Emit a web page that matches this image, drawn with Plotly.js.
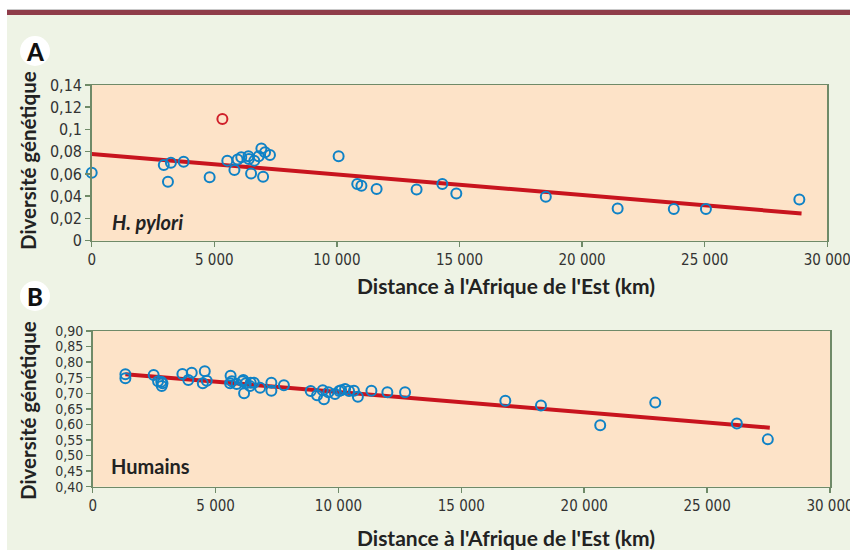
<!DOCTYPE html>
<html>
<head>
<meta charset="utf-8">
<script src="https://cdn.plot.ly/plotly-3.0.1.min.js"></script>
<style>html,body{margin:0;padding:0;background:#fff;}#chart{width:850px;height:550px;}</style>
</head>
<body>
<div id="chart"></div>
<script>
// ---- Panel A : H. pylori ----
var distA = [0, 2940, 3230, 3110, 3750, 4810, 5530, 5820, 5950, 6100, 6390, 6410, 6500, 6630, 6810, 6920, 6990, 7070, 7270, 10070, 10830, 11000, 11620, 13250, 14300, 14870, 18520, 21450, 23740, 25050, 28860];
var divA  = [0.061, 0.068, 0.070, 0.053, 0.071, 0.057, 0.072, 0.0635, 0.073, 0.075, 0.076, 0.0735, 0.0605, 0.072, 0.076, 0.083, 0.0575, 0.0795, 0.077, 0.076, 0.051, 0.0495, 0.0465, 0.046, 0.051, 0.0425, 0.0395, 0.029, 0.0285, 0.0285, 0.037];
var outlierDistA = [5330];
var outlierDivA  = [0.1095];
var trendDistA = [0, 28950];
var trendDivA  = [0.078, 0.0245];

// ---- Panel B : Humains ----
var distB = [1330, 1330, 2480, 2660, 2790, 2810, 2840, 3650, 3890, 4030, 4480, 4560, 4640, 5610, 5590, 5660, 5860, 6090, 6130, 6160, 6230, 6400, 6430, 6560, 6810, 7270, 7270, 7780, 8870, 9130, 9360, 9410, 9590, 9860, 10030, 10110, 10270, 10430, 10630, 10790, 11340, 11990, 12710, 16790, 18240, 20650, 22890, 26210, 27470];
var divB  = [0.761, 0.748, 0.759, 0.739, 0.737, 0.723, 0.732, 0.762, 0.743, 0.766, 0.732, 0.771, 0.740, 0.756, 0.732, 0.739, 0.730, 0.739, 0.743, 0.700, 0.732, 0.723, 0.734, 0.734, 0.718, 0.734, 0.708, 0.726, 0.707, 0.694, 0.710, 0.681, 0.703, 0.698, 0.707, 0.710, 0.714, 0.707, 0.708, 0.689, 0.708, 0.703, 0.703, 0.676, 0.661, 0.597, 0.670, 0.603, 0.552];
var trendDistB = [1330, 27550];
var trendDivB  = [0.761, 0.5895];

// ---- Tick labels ----
var xTickVals = [0, 5000, 10000, 15000, 20000, 25000, 30000];
var xTickText = ['0', '5 000', '10 000', '15 000', '20 000', '25 000', '30 000'];
var yTickValsA = [0, 0.02, 0.04, 0.06, 0.08, 0.1, 0.12, 0.14];
var yTickTextA = ['0', '0,02', '0,04', '0,06', '0,08', '0,1', '0,12', '0,14'];
var yTickValsB = [0.40, 0.45, 0.50, 0.55, 0.60, 0.65, 0.70, 0.75, 0.80, 0.85, 0.90];
var yTickTextB = ['0,40', '0,45', '0,50', '0,55', '0,60', '0,65', '0,70', '0,75', '0,80', '0,85', '0,90'];

var W = 850, H = 550;
function px(x) { return x / W; }
function py(y) { return 1 - y / H; }

var BLUE = '#0f82c6', RED = '#c8141e', AXIS = '#6f8a68';
var NARROW = '"DejaVu Sans Condensed", "Liberation Sans Narrow", sans-serif';
var XTICKFONT = {family: NARROW, size: 15, color: '#333333'};
var YTICKFONT_A = {family: NARROW, size: 16, color: '#333333'};
var YTICKFONT_B = {family: NARROW, size: 14, color: '#333333'};
var TITLEFONT_H = {family: 'Lato, "Open Sans", sans-serif', size: 21, color: '#222222', weight: 'bold'};
var TITLEFONT_V = {family: 'Lato, "Open Sans", sans-serif', size: 20.5, color: '#222222', weight: 'bold'};

var markerOpen = {symbol: 'circle-open', size: 10, color: BLUE, line: {width: 2, color: BLUE}};

var traces = [
  {x: trendDistA, y: trendDivA, xaxis: 'x', yaxis: 'y', mode: 'lines', line: {color: RED, width: 4}, hoverinfo: 'skip'},
  {x: distA, y: divA, xaxis: 'x', yaxis: 'y', mode: 'markers', marker: markerOpen, cliponaxis: false},
  {x: outlierDistA, y: outlierDivA, xaxis: 'x', yaxis: 'y', mode: 'markers', marker: {symbol: 'circle-open', size: 10, color: '#d0202a', line: {width: 2, color: '#d0202a'}}, cliponaxis: false},
  {x: trendDistB, y: trendDivB, xaxis: 'x2', yaxis: 'y2', mode: 'lines', line: {color: RED, width: 4}, hoverinfo: 'skip'},
  {x: distB, y: divB, xaxis: 'x2', yaxis: 'y2', mode: 'markers', marker: markerOpen, cliponaxis: false}
];

function xAxis(domain, anchor) {
  return {domain: domain, anchor: anchor, range: [0, 30000], tickvals: xTickVals, ticktext: xTickText,
    showgrid: false, zeroline: false, showline: true, linecolor: AXIS, linewidth: 1.5, mirror: true,
    ticks: 'outside', ticklen: 5, tickcolor: AXIS, tickwidth: 1.5, tickfont: XTICKFONT, fixedrange: true,
    ticklabeloverflow: 'allow'};
}
function yAxis(domain, anchor, range, vals, text, font) {
  return {domain: domain, anchor: anchor, range: range, tickvals: vals, ticktext: text,
    showgrid: false, zeroline: false, showline: true, linecolor: AXIS, linewidth: 1.5, mirror: true,
    ticks: 'outside', ticklen: 5, tickcolor: AXIS, tickwidth: 1.5, tickfont: font, fixedrange: true};
}

var layout = {
  width: W, height: H,
  margin: {l: 0, r: 0, t: 0, b: 0},
  paper_bgcolor: '#eef3e5',
  plot_bgcolor: '#fde3c8',
  showlegend: false,
  xaxis: xAxis([px(91.7), px(827.3)], 'y'),
  yaxis: yAxis([py(240.7), py(85)], 'x', [0, 0.14], yTickValsA, yTickTextA, YTICKFONT_A),
  xaxis2: xAxis([px(92.7), px(830)], 'y2'),
  yaxis2: yAxis([py(486.7), py(331)], 'x2', [0.40, 0.90], yTickValsB, yTickTextB, YTICKFONT_B),
  shapes: [
    {type: 'rect', xref: 'paper', yref: 'paper', x0: 0, x1: 1, y0: py(10), y1: 1, fillcolor: '#ffffff', line: {width: 0}},
    {type: 'rect', xref: 'paper', yref: 'paper', x0: 0, x1: px(7), y0: 0, y1: 1, fillcolor: '#ffffff', line: {width: 0}},
    {type: 'rect', xref: 'paper', yref: 'paper', x0: px(7), x1: 1, y0: py(15), y1: py(10), fillcolor: '#8f3c49', line: {width: 0}},
    {type: 'line', xref: 'paper', yref: 'paper', x0: px(7), x1: 1, y0: py(9.5), y1: py(9.5), line: {color: '#c9c9c9', width: 1}},
    {type: 'circle', xref: 'paper', yref: 'paper', x0: px(20), x1: px(50), y0: py(66), y1: py(36), fillcolor: '#ffffff', line: {width: 0}},
    {type: 'circle', xref: 'paper', yref: 'paper', x0: px(20), x1: px(50), y0: py(311), y1: py(281), fillcolor: '#ffffff', line: {width: 0}}
  ],
  annotations: [
    {text: 'A', xref: 'paper', yref: 'paper', x: px(35), y: py(51), showarrow: false, xanchor: 'center', yanchor: 'middle',
      font: {family: 'Lato, sans-serif', size: 24, color: '#111111', weight: 900}},
    {text: 'B', xref: 'paper', yref: 'paper', x: px(35), y: py(296), showarrow: false, xanchor: 'center', yanchor: 'middle',
      font: {family: 'Lato, sans-serif', size: 24, color: '#111111', weight: 900}},
    {text: 'Diversité génétique', xref: 'paper', yref: 'paper', x: px(28), y: py(161), textangle: -90, showarrow: false,
      xanchor: 'center', yanchor: 'middle', font: TITLEFONT_V},
    {text: 'Diversité génétique', xref: 'paper', yref: 'paper', x: px(28), y: py(411), textangle: -90, showarrow: false,
      xanchor: 'center', yanchor: 'middle', font: TITLEFONT_V},
    {text: "Distance à l'Afrique de l'Est (km)", xref: 'paper', yref: 'paper', x: px(506), y: py(285), showarrow: false,
      xanchor: 'center', yanchor: 'middle', font: TITLEFONT_H},
    {text: "Distance à l'Afrique de l'Est (km)", xref: 'paper', yref: 'paper', x: px(506), y: py(537), showarrow: false,
      xanchor: 'center', yanchor: 'middle', font: TITLEFONT_H},
    {text: '<i>H. pylori</i>', xref: 'paper', yref: 'paper', x: px(147), y: py(222), showarrow: false,
      xanchor: 'center', yanchor: 'middle', font: {family: 'Lato, sans-serif', size: 20, color: '#222222', weight: 'bold'}},
    {text: 'Humains', xref: 'paper', yref: 'paper', x: px(150), y: py(466), showarrow: false,
      xanchor: 'center', yanchor: 'middle', font: {family: 'Lato, sans-serif', size: 20, color: '#222222', weight: 'bold'}}
  ]
};

Plotly.newPlot('chart', traces, layout, {displayModeBar: false, staticPlot: true});
</script>
</body>
</html>
